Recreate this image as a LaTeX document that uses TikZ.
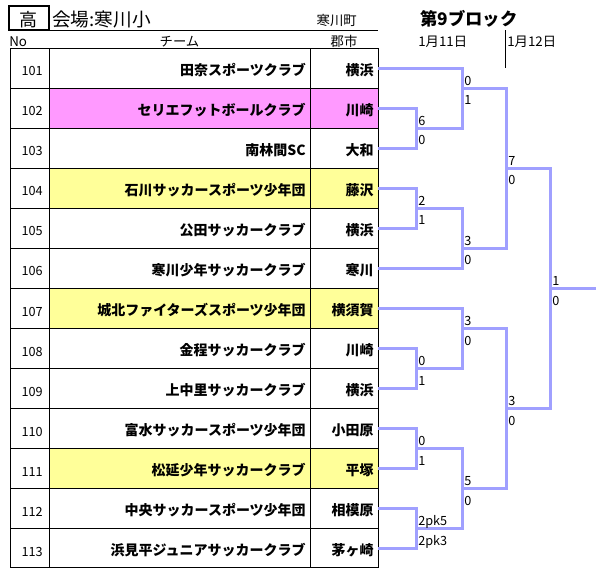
\documentclass[tikz,border=0pt]{standalone}
\usepackage{fontspec}
\setmainfont{Noto Sans CJK JP}
\usepackage{xcolor}
\usepackage{tikz}
\definecolor{bktline}{RGB}{160,160,255}
\definecolor{pinkrow}{RGB}{255,153,255}
\definecolor{yellowrow}{RGB}{255,255,153}

\begin{document}
\begin{tikzpicture}[x=0.75pt,y=0.75pt,yscale=-1,xscale=1,
  bkt/.style={color=bktline,line width=2.25pt},
  grid/.style={color=black,line width=0.75pt},
  rowno/.style={anchor=base east,inner sep=0pt,font=\fontsize{9.5}{11}\selectfont},
  tm/.style={anchor=base east,inner sep=0pt,font=\bfseries\fontsize{10.5}{12}\selectfont},
  ct/.style={anchor=base east,inner sep=0pt,font=\bfseries\fontsize{10.5}{12}\selectfont},
  hd/.style={inner sep=0pt,font=\fontsize{10}{12}\selectfont},
  sc/.style={anchor=base west,inner sep=0pt,font=\fontsize{9.5}{11}\selectfont}]
\useasboundingbox (0,0) rectangle (605,580);

%Shape: Rectangle (highlighted rows)
\fill [color=pinkrow] (49,88.5) rectangle (378,128.5);
\fill [color=yellowrow] (49,168.5) rectangle (378,208.5);
\fill [color=yellowrow] (49,288.5) rectangle (378,328.5);
\fill [color=yellowrow] (49,448.5) rectangle (378,488.5);

%Shape: Rectangle (table frame)
\draw [grid] (10,48.5) rectangle (378,567);
%Straight Lines (columns)
\draw [grid] (49,48.5) -- (49,567);
\draw [grid] (310,48.5) -- (310,567);
%Straight Lines (rows)
\draw [grid] (10,88.5) -- (378,88.5);
\draw [grid] (10,128.5) -- (378,128.5);
\draw [grid] (10,168.5) -- (378,168.5);
\draw [grid] (10,208.5) -- (378,208.5);
\draw [grid] (10,248.5) -- (378,248.5);
\draw [grid] (10,288.5) -- (378,288.5);
\draw [grid] (10,328.5) -- (378,328.5);
\draw [grid] (10,368.5) -- (378,368.5);
\draw [grid] (10,408.5) -- (378,408.5);
\draw [grid] (10,448.5) -- (378,448.5);
\draw [grid] (10,488.5) -- (378,488.5);
\draw [grid] (10,528.5) -- (378,528.5);

%Header
\draw [line width=1.5pt] (8.5,6.5) rectangle (49,30.5);
\draw [grid] (49,30.5) -- (378,30.5);
\draw [grid] (505,30.5) -- (505,68.5);
% Text Node
\node [anchor=base,inner sep=0pt,font=\fontsize{13.5}{15}\selectfont] (kou) at (28.75,27) {高};
% Text Node
\node [anchor=base west,inner sep=0pt,font=\fontsize{14}{16}\selectfont] (venue) at (52,27) {会場:寒川小};
% Text Node
\node [hd,anchor=base east] (town) at (357,26) {寒川町};
% Text Node
\node [anchor=base west,inner sep=0pt,font=\bfseries\fontsize{13}{15}\selectfont] (block) at (420,26) {第9ブロック};
% Text Node
\node [hd,anchor=base west] (hno) at (9,46.5) {No};
% Text Node
\node [hd,anchor=base] (hteam) at (179.5,46.5) {チーム};
% Text Node
\node [hd,anchor=base] (hcity) at (344,46.5) {郡市};
% Text Node
\node [hd,anchor=base west] (day1) at (418,46.5) {1月11日};
% Text Node
\node [hd,anchor=base west] (day2) at (507,46.5) {1月12日};

%Rows
\node [rowno] (no101) at (43,76) {101};
\node [tm] (tn101) at (306,75.5) {田奈スポーツクラブ};
\node [ct] (ct101) at (374,75.5) {横浜};
\node [rowno] (no102) at (43,116) {102};
\node [tm] (tn102) at (306,115.5) {セリエフットボールクラブ};
\node [ct] (ct102) at (374,115.5) {川崎};
\node [rowno] (no103) at (43,156) {103};
\node [tm] (tn103) at (306,155.5) {南林間SC};
\node [ct] (ct103) at (374,155.5) {大和};
\node [rowno] (no104) at (43,196) {104};
\node [tm] (tn104) at (306,195.5) {石川サッカースポーツ少年団};
\node [ct] (ct104) at (374,195.5) {藤沢};
\node [rowno] (no105) at (43,236) {105};
\node [tm] (tn105) at (306,235.5) {公田サッカークラブ};
\node [ct] (ct105) at (374,235.5) {横浜};
\node [rowno] (no106) at (43,276) {106};
\node [tm] (tn106) at (306,275.5) {寒川少年サッカークラブ};
\node [ct] (ct106) at (374,275.5) {寒川};
\node [rowno] (no107) at (43,316) {107};
\node [tm] (tn107) at (306,315.5) {城北ファイターズスポーツ少年団};
\node [ct] (ct107) at (374,315.5) {横須賀};
\node [rowno] (no108) at (43,356) {108};
\node [tm] (tn108) at (306,355.5) {金程サッカークラブ};
\node [ct] (ct108) at (374,355.5) {川崎};
\node [rowno] (no109) at (43,396) {109};
\node [tm] (tn109) at (306,395.5) {上中里サッカークラブ};
\node [ct] (ct109) at (374,395.5) {横浜};
\node [rowno] (no110) at (43,436) {110};
\node [tm] (tn110) at (306,435.5) {富水サッカースポーツ少年団};
\node [ct] (ct110) at (374,435.5) {小田原};
\node [rowno] (no111) at (43,476) {111};
\node [tm] (tn111) at (306,475.5) {松延少年サッカークラブ};
\node [ct] (ct111) at (374,475.5) {平塚};
\node [rowno] (no112) at (43,516) {112};
\node [tm] (tn112) at (306,515.5) {中央サッカースポーツ少年団};
\node [ct] (ct112) at (374,515.5) {相模原};
\node [rowno] (no113) at (43,556) {113};
\node [tm] (tn113) at (306,555.5) {浜見平ジュニアサッカークラブ};
\node [ct] (ct113) at (374,555.5) {茅ヶ崎};

%Bracket entry points
\coordinate (t101) at (378,68.5);
\coordinate (t102) at (378,108.5);
\coordinate (t103) at (378,148.5);
\coordinate (t104) at (378,188.5);
\coordinate (t105) at (378,228.5);
\coordinate (t106) at (378,268.5);
\coordinate (t107) at (378,308.5);
\coordinate (t108) at (378,348.5);
\coordinate (t109) at (378,388.5);
\coordinate (t110) at (378,428.5);
\coordinate (t111) at (378,468.5);
\coordinate (t112) at (378,508.5);
\coordinate (t113) at (378,548.5);
%Match points
\coordinate (m1) at (416,128.5);
\coordinate (m2) at (416,208.5);
\coordinate (m3) at (416,368.5);
\coordinate (m4) at (416,448.5);
\coordinate (m5) at (416,528.5);
\coordinate (m6) at (462,88.5);
\coordinate (m7) at (462,248.5);
\coordinate (m8) at (462,328.5);
\coordinate (m9) at (462,488.5);
\coordinate (m10) at (506,168.5);
\coordinate (m11) at (506,408.5);
\coordinate (m12) at (550,288.5);
\coordinate (win) at (596,288.5);

%Bracket lines
\draw [bkt] (t102) -| (m1) |- (t103);
\draw [bkt] (t104) -| (m2) |- (t105);
\draw [bkt] (t108) -| (m3) |- (t109);
\draw [bkt] (t110) -| (m4) |- (t111);
\draw [bkt] (t112) -| (m5) |- (t113);
\draw [bkt] (t101) -| (m6) |- (m1);
\draw [bkt] (m2) -| (m7) |- (t106);
\draw [bkt] (t107) -| (m8) |- (m3);
\draw [bkt] (m4) -| (m9) |- (m5);
\draw [bkt] (m6) -| (m10) |- (m7);
\draw [bkt] (m8) -| (m11) |- (m9);
\draw [bkt] (m10) -| (m12) |- (m11);
\draw [bkt] (m12) -- (win);

%Scores
\node [sc] (s1a) at (418,125.5) {6};
\node [sc] (s1b) at (418,145) {0};
\node [sc] (s2a) at (418,205.5) {2};
\node [sc] (s2b) at (418,225) {1};
\node [sc] (s3a) at (418,365.5) {0};
\node [sc] (s3b) at (418,385) {1};
\node [sc] (s4a) at (418,445.5) {0};
\node [sc] (s4b) at (418,465) {1};
\node [sc] (s5a) at (418,525.5) {2pk5};
\node [sc] (s5b) at (418,545) {2pk3};
\node [sc] (s6a) at (464,85.5) {0};
\node [sc] (s6b) at (464,105) {1};
\node [sc] (s7a) at (464,245.5) {3};
\node [sc] (s7b) at (464,265) {0};
\node [sc] (s8a) at (464,325.5) {3};
\node [sc] (s8b) at (464,345) {0};
\node [sc] (s9a) at (464,485.5) {5};
\node [sc] (s9b) at (464,505) {0};
\node [sc] (s10a) at (508,165.5) {7};
\node [sc] (s10b) at (508,185) {0};
\node [sc] (s11a) at (508,405.5) {3};
\node [sc] (s11b) at (508,425) {0};
\node [sc] (s12a) at (552,285.5) {1};
\node [sc] (s12b) at (552,305) {0};

\end{tikzpicture}
\end{document}
